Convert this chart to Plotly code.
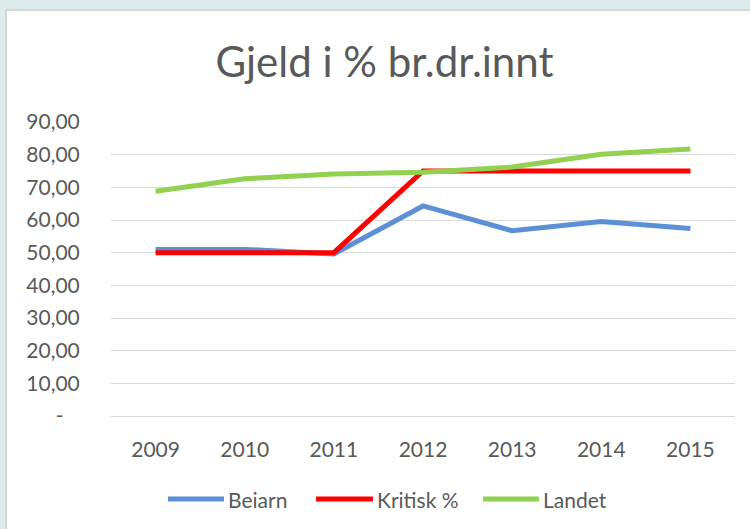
import plotly.graph_objects as go

years = ["2009", "2010", "2011", "2012", "2013", "2014", "2015"]
beiarn = [51.0, 51.0, 49.6, 64.3, 56.7, 59.5, 57.4]
kritisk = [50.0, 50.0, 50.0, 75.0, 75.0, 75.0, 75.0]
landet = [68.8, 72.6, 74.1, 74.6, 76.2, 80.1, 81.7]
series_names = ["Beiarn", "Kritisk %", "Landet"]
series_colors = ["#5B8FD6", "#FF0000", "#92D050"]
y_tickvals = [0, 10, 20, 30, 40, 50, 60, 70, 80, 90]
y_ticktext = ["-\u00a0\u00a0\u00a0", "10,00", "20,00", "30,00", "40,00", "50,00",
              "60,00", "70,00", "80,00", "90,00"]
title_text = "Gjeld i % br.dr.innt"

W, H = 750, 529
L, R, T, B = 111, 735, 122, 416


def px(x):
    return (x - L) / (R - L)


def py(y):
    return (B - y) / (B - T)


FONT = "Lato"
TXT = "#595959"

fig = go.Figure()
for name, vals, col in zip(series_names, [beiarn, kritisk, landet], series_colors):
    fig.add_trace(go.Scatter(x=years, y=vals, name=name, mode="lines",
                             line=dict(color=col, width=5), showlegend=False))

shapes = [
    dict(type="rect", xref="paper", yref="paper", x0=px(0), x1=px(W), y0=py(0), y1=py(9),
         fillcolor="#DBECEB", line=dict(width=0), layer="below"),
    dict(type="rect", xref="paper", yref="paper", x0=px(0), x1=px(5), y0=py(0), y1=py(H),
         fillcolor="#DBECEB", line=dict(width=0), layer="below"),
    dict(type="rect", xref="paper", yref="paper", x0=px(5), x1=px(W), y0=py(9), y1=py(11),
         fillcolor="#D6D6D6", line=dict(width=0), layer="below"),
    dict(type="rect", xref="paper", yref="paper", x0=px(5), x1=px(7), y0=py(9), y1=py(H),
         fillcolor="#D6D6D6", line=dict(width=0), layer="below"),
]

# custom legend
leg_y = 499
leg_lines = [(168, 224), (316, 373), (483, 539)]
annotations = []
for (x0, x1), name, col in zip(leg_lines, series_names, series_colors):
    shapes.append(dict(type="line", xref="paper", yref="paper", x0=px(x0), x1=px(x1),
                       y0=py(leg_y), y1=py(leg_y), line=dict(color=col, width=5)))
    annotations.append(dict(text=name, xref="paper", yref="paper", x=px(x1 + 2), y=py(leg_y),
                            xanchor="left", yanchor="middle", showarrow=False,
                            font=dict(family=FONT, size=21, color=TXT)))

fig.update_layout(
    width=W, height=H,
    margin=dict(l=L, r=W - R, t=T, b=H - B),
    paper_bgcolor="white", plot_bgcolor="rgba(0,0,0,0)",
    title=dict(text=title_text, x=384.5 / W, xref="container", xanchor="center",
               y=1 - 62 / H, yref="container", yanchor="middle",
               font=dict(family=FONT, size=42, color=TXT)),
    showlegend=False,
    shapes=shapes,
    annotations=annotations,
    xaxis=dict(type="category", range=[-0.5, 6.5], showgrid=False, showline=False,
               zeroline=False, ticks="outside", ticklen=15, tickcolor="rgba(0,0,0,0)",
               tickfont=dict(family=FONT, size=21, color=TXT), fixedrange=True),
    yaxis=dict(range=[0, 90], tickvals=y_tickvals, ticktext=y_ticktext,
               showgrid=True, gridcolor="#D9D9D9", gridwidth=1.4,
               zeroline=True, zerolinecolor="#D9D9D9", zerolinewidth=1.4,
               showline=False, ticks="outside", ticklen=26, tickcolor="rgba(0,0,0,0)",
               tickfont=dict(family=FONT, size=21, color=TXT), fixedrange=True),
)

fig.write_html("out.html", config={"displayModeBar": False},
               post_script="document.body.style.margin='0';document.body.style.overflow='hidden';")
